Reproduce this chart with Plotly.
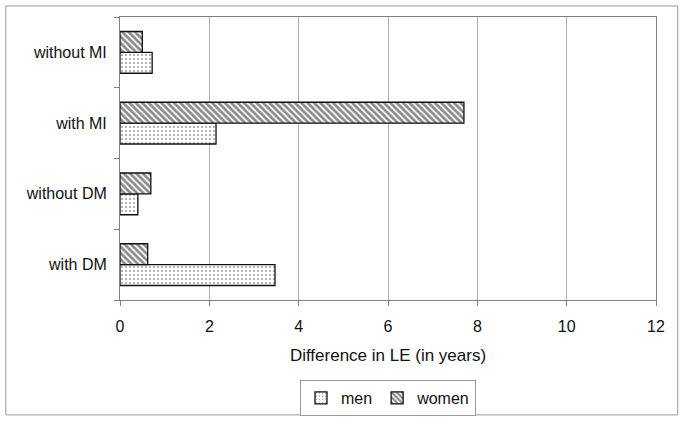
import plotly.graph_objects as go

categories = ["with DM", "without DM", "with MI", "without MI"]
men = [3.47, 0.40, 2.15, 0.72]
women = [0.62, 0.69, 7.70, 0.50]
x_ticks = [0, 2, 4, 6, 8, 10, 12]

FONT = "Liberation Sans, Arial, sans-serif"

fig = go.Figure()
fig.add_trace(go.Bar(
    y=categories, x=men, orientation="h", name="men",
    marker=dict(color="white", line=dict(color="#111", width=1.3),
                pattern=dict(shape=".", fgcolor="#333", bgcolor="white", size=4, solidity=0.18)),
))
fig.add_trace(go.Bar(
    y=categories, x=women, orientation="h", name="women",
    marker=dict(color="white", line=dict(color="#111", width=1.3),
                pattern=dict(shape="\\", fgcolor="#111", bgcolor="white", size=4.5, solidity=0.6)),
))

fig.update_layout(
    width=685, height=423,
    margin=dict(l=120, r=29, t=17, b=123, autoexpand=False),
    paper_bgcolor="white", plot_bgcolor="white",
    barmode="group", bargap=0.41, bargroupgap=0,
    font=dict(family=FONT, size=16, color="#111"),
    showlegend=True,
    legend=dict(orientation="h", x=0.5, xanchor="center", y=-0.346, yanchor="middle",
                bordercolor="#999", borderwidth=1,
                font=dict(family=FONT, size=16, color="#111"),
                traceorder="normal", itemwidth=30),
    xaxis=dict(range=[0, 12], tickvals=x_ticks, ticktext=[str(v) for v in x_ticks],
               showgrid=True, gridcolor="#b0b0b0", gridwidth=1,
               showline=True, linecolor="#808080", linewidth=1, mirror=True,
               ticks="outside", ticklen=5, tickcolor="#808080",
               zeroline=False, automargin=False, ticklabelstandoff=7,
               tickfont=dict(family=FONT, size=16, color="#111"),
               title=dict(text="Difference in LE (in years)", standoff=14,
                          font=dict(family=FONT, size=17, color="#111"))),
    yaxis=dict(categoryorder="array", categoryarray=categories,
               showline=True, linecolor="#808080", linewidth=1, mirror=True,
               ticks="outside", ticklen=5, tickcolor="#808080", automargin=False,
               tickson="boundaries", showgrid=False, ticklabelstandoff=9,
               tickfont=dict(family=FONT, size=16, color="#111")),
    shapes=[dict(type="rect", xref="paper", yref="paper",
                 x0=-0.213, x1=1.0405, y0=-0.406, y1=1.039,
                 line=dict(color="#999", width=1), fillcolor="rgba(0,0,0,0)", layer="below")],
)

fig.write_html("out.html", config={"displayModeBar": False},
               post_script="document.body.style.margin='0';document.body.style.overflow='hidden';")
